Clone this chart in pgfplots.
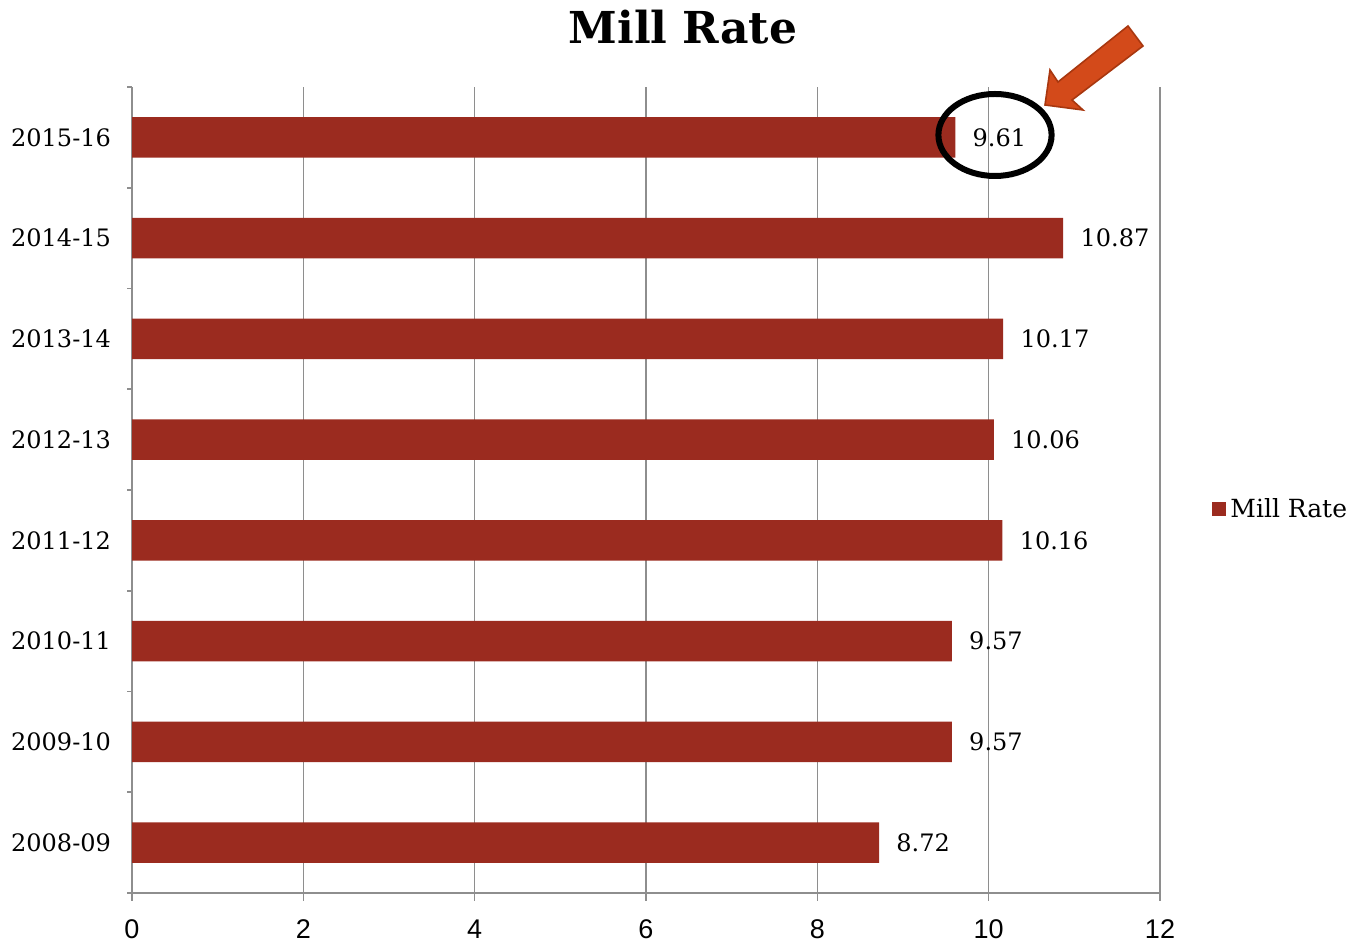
\documentclass[border=0pt]{standalone}
\usepackage{pgfplots}
\pgfplotsset{compat=1.18}
\usepackage{fontspec}
\setmainfont{DejaVu Serif}
\newfontfamily\ticksans{Liberation Sans}
\definecolor{barred}{HTML}{9B2B1F}
\definecolor{gridgray}{HTML}{8E8E8E}
\definecolor{arrowfill}{HTML}{D34A1A}
\definecolor{arrowedge}{HTML}{A8370F}

\begin{document}
\begin{tikzpicture}[x=1pt,y=1pt]
\path[use as bounding box] (0,0) rectangle (675,471);
\begin{axis}[
  at={(66pt,24.5pt)}, anchor=south west,
  scale only axis, width=514pt, height=403pt,
  xbar, bar width=0.4,
  xmin=0, xmax=12, ymin=-0.5, ymax=7.5,
  axis lines=left,
  x axis line style={-, draw=gridgray, line width=0.8pt},
  y axis line style={-, draw=gridgray, line width=0.8pt},
  xtick={0,2,...,12},
  ytick={0,...,7},
  yticklabels={2008-09,2009-10,2010-11,2011-12,2012-13,2013-14,2014-15,2015-16},
  minor ytick={-0.5,0.5,...,7.5},
  tick align=outside,
  major tick length=4pt,
  minor tick length=2.5pt,
  major y tick style={draw=none},
  tick style={draw=gridgray, line width=0.8pt},
  xmajorgrids,
  grid style={draw=gridgray, line width=0.8pt},
  /pgf/number format/assume math mode=true,
  xticklabel style={font=\ticksans\fontsize{13.5}{15}\selectfont, yshift=-6pt},
  yticklabel style={font=\fontsize{12}{14}\selectfont, xshift=-3pt},
  point meta=x,
  nodes near coords,
  nodes near coords style={font=\fontsize{12}{14}\selectfont, anchor=west, inner sep=0pt, xshift=8.5pt,
    /pgf/number format/.cd, fixed, precision=2, fixed zerofill},
  legend style={at={(1.0506,0.476)}, anchor=west, draw=none, fill=none,
    font=\fontsize{12.5}{14}\selectfont, inner sep=0pt},
  legend image code/.code={\fill[barred] (0pt,-3.5pt) rectangle (7pt,3.5pt);},
]
\addplot[fill=barred, draw=none] coordinates {
  (8.72,0) (9.57,1) (9.57,2) (10.16,3) (10.06,4) (10.17,5) (10.87,6) (9.61,7)
};
\addlegendentry{Mill Rate}
\end{axis}

% chart title
\node[font=\bfseries\fontsize{22}{26}\selectfont] at (341.5,457.5) {Mill Rate};

% highlight around the latest value
\draw[line width=3pt, black] (497.5,403.5) ellipse [x radius=28.3, y radius=20.5];

% pointer arrow
\draw[fill=arrowfill, draw=arrowedge, line width=0.8pt, line join=miter]
  (522.5,418.5) -- (541.5,416) -- (536,421) -- (571.5,448) -- (564,458)
  -- (529,430) -- (525,436) -- cycle;
\end{tikzpicture}
\end{document}
